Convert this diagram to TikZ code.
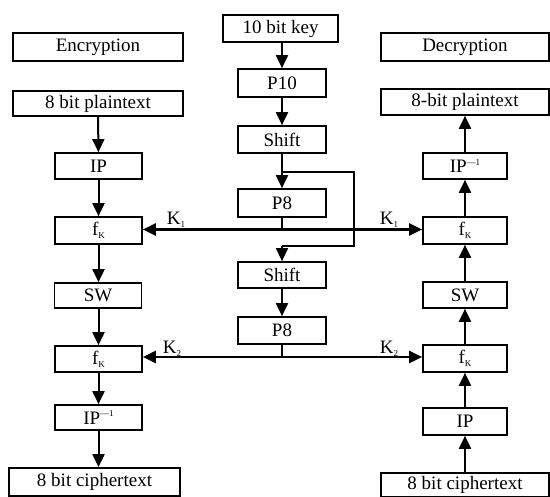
\documentclass[tikz,border=0pt]{standalone}
\usepackage{fontspec}
\setmainfont{Liberation Serif}
\usetikzlibrary{arrows.meta}
\newcommand{\mysubk}[1]{\raisebox{-0.35ex}{\fontsize{9}{9}\selectfont #1}}
\newcommand{\mysupk}[1]{\raisebox{0.9ex}{\fontsize{9}{9}\selectfont #1}}
\begin{document}
\begin{tikzpicture}[x=1pt,y=-1pt,
  box/.style={draw, line width=1.7pt, inner sep=0pt, font=\fontsize{19}{22}\selectfont},
  wbox/.style={box, minimum width=170pt, minimum height=27pt},
  sbox/.style={box, minimum width=87pt, minimum height=26pt},
  arr/.style={line width=2pt, -{Triangle[length=13pt,width=12pt]}},
  thinarr/.style={line width=1.3pt, -{Triangle[length=13pt,width=12pt]}},
  thinline/.style={line width=1.3pt},
  kline/.style={line width=2.2pt},
  klab/.style={font=\fontsize{19}{22}\selectfont, inner sep=0pt}]
\useasboundingbox (0,0) rectangle (550,497);
% left column
\node[wbox, minimum height=28pt] (enc) at (98,47) {Encryption};
\node[wbox, minimum height=25pt] (ept) at (98,103.5) {8 bit plaintext};
\node[sbox] (eip) at (98.5,166) {IP};
\node[sbox, minimum height=27pt] (efk1) at (98.5,230.5) {f\mysubk{K}};
\node[sbox, minimum height=25pt] (esw) at (98,295.5) {SW};
\node[sbox] (efk2) at (98.5,359) {f\mysubk{K}};
\node[sbox, minimum height=25pt] (eipi) at (98.5,417.5) {IP\mysupk{—1}};
\node[wbox, minimum width=171pt, minimum height=28pt] (ect) at (94.5,482) {8 bit ciphertext};
% middle column
\node[box, minimum width=115pt, minimum height=27pt] (key) at (280.5,28.5) {10 bit key};
\node[box, minimum width=88pt, minimum height=28pt] (p10) at (282,83) {P10};
\node[box, minimum width=88pt, minimum height=27pt] (sh1) at (282,139.5) {Shift};
\node[box, minimum width=88pt, minimum height=28pt] (p81) at (282,203) {P8};
\node[box, minimum width=88pt, minimum height=26pt] (sh2) at (282,275) {Shift};
\node[box, minimum width=88pt, minimum height=27pt] (p82) at (282,330.5) {P8};
% right column
\node[wbox, minimum width=168pt, minimum height=28pt] (dec) at (465,47) {Decryption};
\node[wbox, minimum width=168pt, minimum height=26pt] (dpt) at (465,102) {8-bit plaintext};
\node[sbox, minimum width=84pt] (dipi) at (465,166) {IP\mysupk{—1}};
\node[sbox, minimum width=84pt, minimum height=27pt] (dfk1) at (465,230.5) {f\mysubk{K}};
\node[sbox, minimum width=84pt] (dsw) at (465,295) {SW};
\node[sbox, minimum width=84pt, minimum height=27pt] (dfk2) at (465,358.5) {f\mysubk{K}};
\node[sbox, minimum width=84pt, minimum height=27pt] (dip) at (465,421.5) {IP};
\node[wbox, minimum width=168pt, minimum height=24pt] (dct) at (465,485) {8 bit ciphertext};
% key labels
\node[klab] (k1l) at (176,220) {K\mysubk{1}};
\node[klab] (k1r) at (389,220) {K\mysubk{1}};
\node[klab] (k2l) at (172,349) {K\mysubk{2}};
\node[klab] (k2r) at (389,349) {K\mysubk{2}};
% coordinates
\coordinate (k1) at (282,229.5);
\coordinate (k2) at (282,357);
\coordinate (br1) at (282,172);
\coordinate (br2) at (354,172);
\coordinate (br3) at (354,246);
\coordinate (br4) at (282,246);
% encryption arrows
\draw[arr] (ept) -- (eip);
\draw[arr] (eip) -- (efk1);
\draw[arr] (efk1) -- (esw.north -| efk1.south);
\draw[arr] (esw.south -| efk2.north) -- (efk2);
\draw[arr] (efk2) -- (eipi);
\draw[arr] (eipi.south) -- (eipi.south |- ect.north);
% key generation
\draw[arr] (key.south -| p10.north) -- (p10);
\draw[arr] (p10) -- (sh1);
\draw[arr] (sh1) -- (p81);
\draw[thinline] (br1) -- (br2) -- (br3) -- (br4);
\draw[thinarr] (br4) -- (sh2);
\draw[arr] (sh2) -- (p82);
\draw[thinline] (p81.south) -- (k1);
\draw[thinline] (p82.south) -- (k2);
\draw[kline, -{Triangle[length=13pt,width=12pt]}] (k1) -- (efk1.east |- k1);
\draw[kline, -{Triangle[length=13pt,width=12pt]}] (k1) -- (dfk1.west |- k1);
\draw[kline, -{Triangle[length=13pt,width=12pt]}] (k2) -- (efk2.east |- k2);
\draw[kline, -{Triangle[length=13pt,width=12pt]}] (k2) -- (dfk2.west |- k2);
% decryption arrows
\draw[arr] (dct) -- (dip);
\draw[arr] (dip) -- (dfk2);
\draw[arr] (dfk2) -- (dsw);
\draw[arr] (dsw) -- (dfk1);
\draw[arr] (dfk1) -- (dipi);
\draw[arr] (dipi) -- (dpt);
\end{tikzpicture}
\end{document}
